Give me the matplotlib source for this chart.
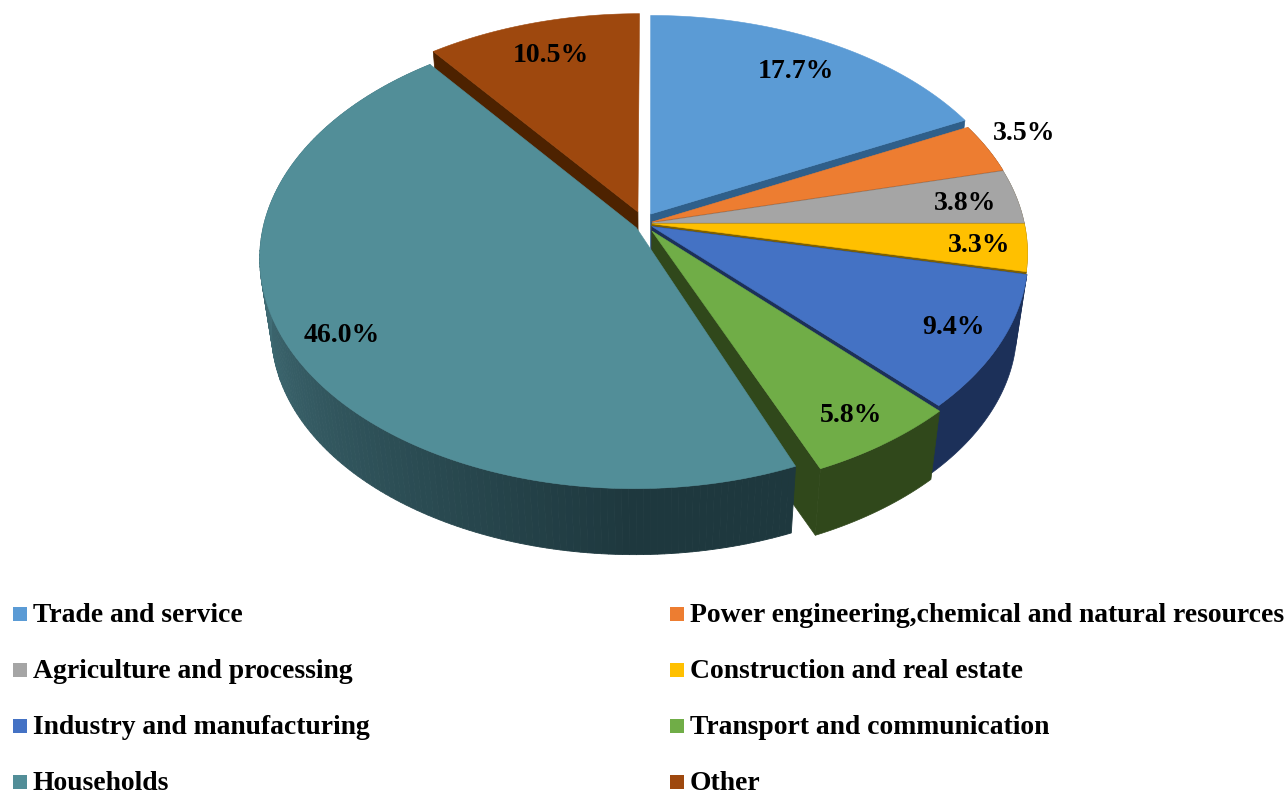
import numpy as np
import matplotlib
matplotlib.use("Agg")
import matplotlib.pyplot as plt
from matplotlib.patches import Rectangle

# ---------------------------------------------------
# 1. Data
# ---------------------------------------------------

categories = ["Trade and service", "Power engineering,chemical and natural resources",
              "Agriculture and processing", "Construction and real estate",
              "Industry and manufacturing", "Transport and communication",
              "Households", "Other"]
shares = [17.7, 3.5, 3.8, 3.3, 9.4, 5.8, 46.0, 10.5]

top_colors = ["#5b9bd5", "#ed7d31", "#a5a5a5", "#ffc000", "#4472c4", "#70ad47", "#528e98", "#9e480e"]
wall_colors = ["#2f5f8a", "#7a4420", "#6b5a3a", "#7f6000", "#1c3059", "#30481b", "#1f3a40", "#4d2200"]

# slice shift on the pie plane (pie radius = 1)
shift_x = [-0.004, 0.0, 0.0, 0.0, 0.0, 0.0, -0.042, -0.038]
shift_y = [0.035, 0.0, -0.004, -0.008, -0.02, -0.04, -0.025, 0.045]

# label centres in pixels
label_x = [796, 1024, 965, 979, 954, 851, 342, 551]
label_y = [71, 133, 203, 246, 327, 415, 336, 55]

# which walls get drawn
wall_start = [False, False, False, False, True, False, False, True]
wall_end = [True, True, True, True, True, True, False, False]
wall_outer = [False, True, True, True, True, True, True, False]

# households front edge sits a little further round in the picture (degrees)
edge_trim = [0, 0, 0, 0, 0, 0, 1.0, 0]

# ---------------------------------------------------
# 2. Fake 3D projection
# ---------------------------------------------------

cx, cy = 652, 222
rx, ry = 372, 226
persp = 0.128
low_scale, low_drop = 0.97, 74


def project(px, py, low=False):
    w = 1 + persp * py
    sx = rx * px / w
    sy = -ry * py / w
    if low:
        sx = sx * low_scale
        sy = sy * low_scale + low_drop
    return cx + sx, cy + sy


def mix(c1, c2, t):
    a = np.array(matplotlib.colors.to_rgb(c1))
    b = np.array(matplotlib.colors.to_rgb(c2))
    return tuple(a + (b - a) * t)


fig = plt.figure(figsize=(12.88, 7.93), dpi=100)
ax = fig.add_axes([0, 0, 1, 1])
ax.set_xlim(0, 1288)
ax.set_ylim(793, 0)
ax.axis("off")

plt.rcParams["font.family"] = ["Liberation Serif", "DejaVu Serif"]

edges = np.cumsum([0] + shares) / sum(shares) * 2 * np.pi
# painter order: the households slice goes on top of everything
order = [0, 1, 2, 3, 4, 5, 7, 6]

for i in order:
    t0 = edges[i] + np.radians(edge_trim[i])
    t = np.linspace(t0, edges[i + 1], max(int((edges[i + 1] - t0) * 60), 4))
    px = np.sin(t) + shift_x[i]
    py = np.cos(t) + shift_y[i]
    ox, oy = shift_x[i], shift_y[i]

    # outer wall
    if categories[i] == "Households":
        for k in range(len(t) - 1):
            deg = np.degrees(t[k])
            frac = np.clip((290 - deg) / 110, 0, 1)
            col = mix("#4b7d87", "#1e383e", frac)
            xa, ya = project(px[k:k + 2], py[k:k + 2])
            xb, yb = project(px[k:k + 2], py[k:k + 2], low=True)
            ax.fill(np.r_[xa, xb[::-1]], np.r_[ya, yb[::-1]], color=col, lw=0.6)
    elif wall_outer[i]:
        xa, ya = project(px, py)
        xb, yb = project(px, py, low=True)
        ax.fill(np.r_[xa, xb[::-1]], np.r_[ya, yb[::-1]], color=wall_colors[i], lw=0.5)

    # radial walls
    for use, k in ((wall_start[i], 0), (wall_end[i], -1)):
        if use:
            xa, ya = project(np.array([ox, px[k]]), np.array([oy, py[k]]))
            xb, yb = project(np.array([ox, px[k]]), np.array([oy, py[k]]), low=True)
            ax.fill(np.r_[xa, xb[::-1]], np.r_[ya, yb[::-1]], color=wall_colors[i], lw=0.5)

    # top face
    xt, yt = project(np.r_[ox, px], np.r_[oy, py])
    ax.fill(xt, yt, color=top_colors[i], lw=0.4)

# ---------------------------------------------------
# 3. Labels and legend
# ---------------------------------------------------

for i, v in enumerate(shares):
    ax.text(label_x[i], label_y[i], f"{v:.1f}%", ha="center", va="center",
            fontsize=20, fontweight="bold", color="black")

legend_x = [13, 670]
legend_rows = [614, 670, 726, 782]
for i, name in enumerate(categories):
    lx = legend_x[i % 2]
    ly = legend_rows[i // 2]
    ax.add_patch(Rectangle((lx, ly - 7), 14, 14, color=top_colors[i], lw=0))
    ax.text(lx + 20, ly + 1, name, ha="left", va="center", fontsize=19.9,
            fontweight="bold", color="black")

fig.savefig("out.png", dpi=100)
